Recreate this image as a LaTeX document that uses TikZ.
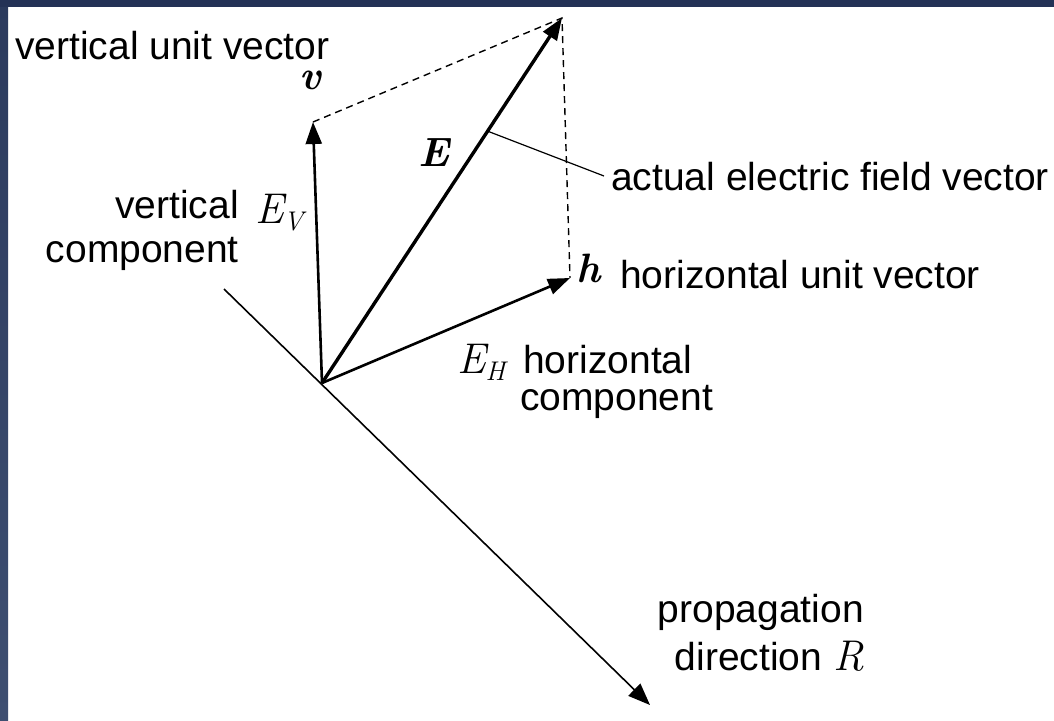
\documentclass[tikz,border=0pt]{standalone}
\usepackage{fontspec}
\setmainfont{Liberation Sans}
\newfontfamily\lmr{Latin Modern Roman}
\usetikzlibrary{arrows.meta,calc}
\definecolor{navy}{HTML}{243256}
\definecolor{sidetop}{HTML}{2B3A5D}
\definecolor{sidebot}{HTML}{3E4F71}
\newcommand\itvar[1]{{\lmr\itshape\fontsize{43}{46}\selectfont #1}}
\newcommand\subvar[1]{\raisebox{-7pt}{\lmr\itshape\fontsize{27}{28}\selectfont #1}}
\newcommand\bfvar[1]{{\lmr\bfseries\itshape\fontsize{41}{44}\selectfont #1}}
\begin{document}
\begin{tikzpicture}[x=1pt,y=-1pt,
  lbl/.style={inner sep=0pt,font=\fontsize{39}{45}\selectfont},
  vec/.style={line width=2.6pt,-{Triangle[length=22pt,width=16pt]}},
  guide/.style={line width=1.4pt,dash pattern=on 7pt off 5pt},
  leader/.style={line width=1.2pt}]
\useasboundingbox (0,0) rectangle (1054,720);
\fill[white] (0,0) rectangle (1054,720);
\shade[top color=sidetop,bottom color=sidebot] (0,0) rectangle (8,720);
\fill[navy] (0,0) rectangle (1054,7);

\coordinate (O) at (322,383);
\coordinate (Vt) at (313,122);
\coordinate (Et) at (562,18);
\coordinate (Ht) at (570,278);
\coordinate (Ps) at (224,289);
\coordinate (Pt) at (650,705);
\coordinate (Ls) at ($(O)!0.69!(Et)$);
\coordinate (Le) at (604,176);

\draw[line width=1.6pt,-{Triangle[length=22pt,width=17pt]}] (Ps) -- (Pt);
\draw[guide] (Vt) -- (Et) -- (Ht);
\draw[vec] (O) -- (Vt);
\draw[vec] (O) -- (Ht);
\draw[vec,line width=3.4pt] (O) -- (Et);
\draw[leader] (Ls) -- (Le);

\node[lbl,anchor=base west] (tvu) at (15,59) {vertical unit vector};
\node[lbl] (tv) at (310,80) {\bfvar{v}};
\node[lbl] (tE) at (434,153) {\bfvar{E}};
\node[lbl,anchor=base west] (tEV) at (255,223) {\itvar{E}\subvar{V}};
\node[lbl,anchor=base east] (tvert) at (239,218) {vertical};
\node[lbl,anchor=base east] (tvcomp) at (239,262) {component};
\node[lbl,anchor=base west] (tEH) at (457,373) {\itvar{E}\subvar{H}};
\node[lbl,anchor=base west] (thor) at (523,373) {horizontal};
\node[lbl,anchor=base west] (thcomp) at (520,410) {component};
\node[lbl,anchor=base west] (tact) at (611,190) {actual electric field vector};
\node[lbl] (th) at (589,268) {\bfvar{h}};
\node[lbl,anchor=base west] (thuv) at (620,288) {horizontal unit vector};
\node[lbl,anchor=base east] (tprop) at (864,622) {propagation};
\node[lbl,anchor=base east] (tdir) at (864,670) {direction \itvar{R}};
\end{tikzpicture}
\end{document}
